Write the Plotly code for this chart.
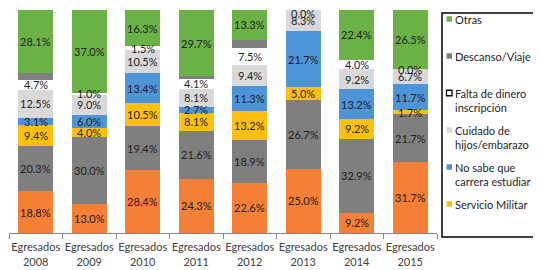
import plotly.graph_objects as go

categories = ["Egresados<br>2008", "Egresados<br>2009", "Egresados<br>2010", "Egresados<br>2011",
              "Egresados<br>2012", "Egresados<br>2013", "Egresados<br>2014", "Egresados<br>2015"]

# stacked from bottom to top
trabajar = [18.8, 13.0, 28.4, 24.3, 22.6, 25.0, 9.2, 31.7]          # orange (legend entry cut off)
otra_razon = [20.3, 30.0, 19.4, 21.6, 18.9, 26.7, 32.9, 21.7]       # dark gray (legend entry cut off)
servicio_militar = [9.4, 4.0, 10.5, 8.1, 13.2, 5.0, 9.2, 1.7]
no_sabe = [3.1, 6.0, 13.4, 2.7, 11.3, 21.7, 13.2, 11.7]
cuidado = [12.5, 9.0, 10.5, 8.1, 9.4, 8.3, 9.2, 6.7]
falta_dinero = [4.7, 1.0, 1.5, 4.1, 7.5, 0.0, 4.0, 0.0]
descanso = [3.1, 0.0, 0.0, 1.4, 3.8, 0.0, 0.0, 0.0]
otras = [28.1, 37.0, 16.3, 29.7, 13.3, None, 22.4, 26.5]

legend_labels = ["Otras", "Descanso/Viaje", "Falta de dinero<br>inscripción",
                 "Cuidado de<br>hijos/embarazo", "No sabe que<br>carrera estudiar", "Servicio Militar"]

GREEN = "#6BB246"
DGRAY = "#7F7F7F"
LGRAY = "#D9D9D9"
BLUE = "#4E94D8"
YELLOW = "#FDC010"
ORANGE = "#F47F36"
FONT = "Lato"
TXT = "#1E1E1E"

series = [
    ("Trabajar", trabajar, ORANGE, True),
    ("Otra razón", otra_razon, DGRAY, True),
    ("Servicio Militar", servicio_militar, YELLOW, True),
    ("No sabe que carrera estudiar", no_sabe, BLUE, True),
    ("Cuidado de hijos/embarazo", cuidado, LGRAY, True),
    ("Falta de dinero inscripción", falta_dinero, "#FFFFFF", True),
    ("Descanso/Viaje", descanso, DGRAY, False),
    ("Otras", otras, GREEN, True),
]

fig = go.Figure()
for name, vals, col, _ in series:
    fig.add_trace(go.Bar(
        x=categories, y=vals, name=name, marker=dict(color=col, line=dict(width=0)),
        showlegend=False, hoverinfo="skip",
    ))

# data labels, centred in each (percent-normalised) stacked segment
annotations = []
for j, cat in enumerate(categories):
    total = sum((s[1][j] or 0) for s in series)
    cum = 0.0
    for name, vals, col, labelled in series:
        v = vals[j]
        if v is None:
            continue
        if labelled:
            mid = (cum + v / 2) / total * 100
            annotations.append(dict(
                x=cat, y=mid, xref="x", yref="y", text=f"{v:.1f}%", showarrow=False,
                yshift=-3 if (v == 0 and mid > 99.9) else 0,
                font=dict(family=FONT, size=11, color=TXT)))
        cum += v

# page body has an 8px margin: figure drawn at offset (8, 8) of the 541x270 window
OFF = 8
W, H = 541 - OFF, 270 - OFF
# plot area in reference window pixels: x 9..437, y 10..233
L, R, T, B = 9 - OFF, W - (437 - OFF), 10 - OFF, H - (233 - OFF)
PW, PH = W - L - R, H - T - B


def px(x):
    return (x - OFF - L) / PW


def py(y):
    return (H - B - (y - OFF)) / PH


shapes = [dict(type="rect", xref="paper", yref="paper",
               x0=px(442), x1=px(536), y0=py(237), y1=py(13),
               line=dict(color="#000000", width=1.5), fillcolor="white", layer="below")]
leg_colors = [GREEN, DGRAY, "#FFFFFF", LGRAY, BLUE, YELLOW]
for i, (txt, col) in enumerate(zip(legend_labels, leg_colors)):
    cy = 19 + 37 * i
    shapes.append(dict(type="rect", xref="paper", yref="paper",
                       x0=px(446.5), x1=px(452), y0=py(cy + 2.75), y1=py(cy - 2.75),
                       fillcolor=col,
                       line=dict(color="#000000" if col == "#FFFFFF" else col,
                                 width=1.3 if col == "#FFFFFF" else 0)))
    annotations.append(dict(xref="paper", yref="paper", x=px(452.5), y=py(cy - 8),
                            xanchor="left", yanchor="top", align="left", showarrow=False,
                            text=txt, font=dict(family=FONT, size=11, color=TXT)))

fig.update_layout(
    barmode="stack", barnorm="percent", bargap=0.34,
    width=W, height=H,
    margin=dict(l=L, r=R, t=T, b=B),
    paper_bgcolor="white", plot_bgcolor="white",
    font=dict(family=FONT, size=11, color=TXT),
    showlegend=False,
    shapes=shapes, annotations=annotations,
    xaxis=dict(
        showline=True, linecolor="#868686", linewidth=1,
        ticks="outside", tickson="boundaries", ticklen=5, tickcolor="#868686",
        tickangle=0, ticklabelstandoff=4,
        tickfont=dict(family=FONT, size=11, color="#404040"),
        showgrid=False, fixedrange=True,
    ),
    yaxis=dict(visible=False, range=[0, 100], showgrid=False, fixedrange=True),
)

fig.write_html("out.html")
